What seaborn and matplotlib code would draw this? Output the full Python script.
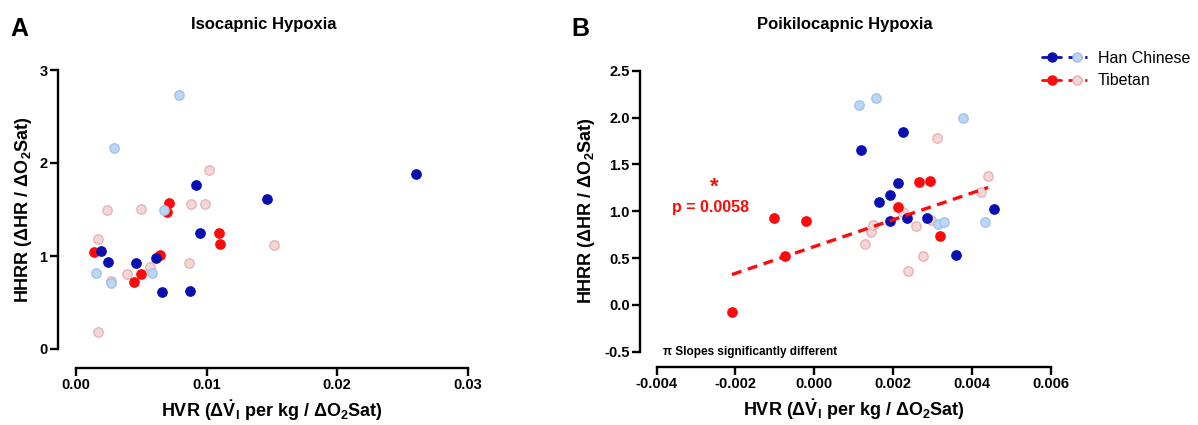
import numpy as np
import pandas as pd
import seaborn as sns
import matplotlib
matplotlib.use("Agg")
import matplotlib.pyplot as plt
from matplotlib.lines import Line2D
from matplotlib.legend_handler import HandlerTuple

# ---------------- Data ----------------
# Panel A: Isocapnic Hypoxia
a_han_dark_x = [0.00192, 0.00248, 0.00460, 0.00611, 0.00657, 0.00874, 0.00920, 0.00950, 0.01461, 0.02603]
a_han_dark_y = [1.05, 0.94, 0.92, 0.98, 0.61, 0.62, 1.76, 1.25, 1.61, 1.88]
a_han_light_x = [0.00156, 0.00291, 0.00268, 0.00580, 0.00677, 0.00787]
a_han_light_y = [0.82, 2.16, 0.71, 0.82, 1.49, 2.73]
a_tib_dark_x = [0.00136, 0.00447, 0.00496, 0.00641, 0.00700, 0.00713, 0.01096, 0.01103]
a_tib_dark_y = [1.04, 0.72, 0.81, 1.01, 1.47, 1.57, 1.25, 1.13]
a_tib_light_x = [0.00166, 0.00171, 0.00240, 0.00268, 0.00389, 0.00500, 0.00565, 0.00864, 0.00879, 0.00991, 0.01017, 0.01517]
a_tib_light_y = [1.18, 0.18, 1.49, 0.73, 0.81, 1.51, 0.88, 0.92, 1.56, 1.56, 1.92, 1.12]

# Panel B: Poikilocapnic Hypoxia
b_han_dark_x = [0.00119, 0.00164, 0.00191, 0.00191, 0.00213, 0.00226, 0.00236, 0.00285, 0.00359, 0.00456]
b_han_dark_y = [1.65, 1.10, 1.17, 0.90, 1.30, 1.85, 0.93, 0.93, 0.53, 1.02]
b_han_light_x = [0.00114, 0.00157, 0.00377, 0.00313, 0.00329, 0.00434]
b_han_light_y = [2.13, 2.21, 1.99, 0.86, 0.88, 0.89]
b_tib_dark_x = [-0.00209, -0.00102, -0.00021, -0.00075, 0.00213, 0.00266, 0.00293, 0.00318]
b_tib_dark_y = [-0.075, 0.93, 0.90, 0.52, 1.04, 1.31, 1.32, 0.73]
b_tib_light_x = [0.00128, 0.00144, 0.00148, 0.00225, 0.00238, 0.00258, 0.00275, 0.00295, 0.00312, 0.00424, 0.00441]
b_tib_light_y = [0.65, 0.78, 0.85, 0.99, 0.36, 0.84, 0.52, 0.91, 1.78, 1.20, 1.38]

a_xticks = [0.00, 0.01, 0.02, 0.03]
a_xticklabels = ["0.00", "0.01", "0.02", "0.03"]
a_yticks = [0, 1, 2, 3]
a_yticklabels = ["0", "1", "2", "3"]
b_xticks = [-0.004, -0.002, 0.000, 0.002, 0.004, 0.006]
b_xticklabels = ["-0.004", "-0.002", "0.000", "0.002", "0.004", "0.006"]
b_yticks = [-0.5, 0.0, 0.5, 1.0, 1.5, 2.0, 2.5]
b_yticklabels = ["-0.5", "0.0", "0.5", "1.0", "1.5", "2.0", "2.5"]

groups = ["Han Chinese", "Tibetan"]
p_text = "p = 0.0058"

# ---------------- Style ----------------
sns.set_style("ticks")
plt.rcParams["font.family"] = ["Liberation Sans", "DejaVu Sans"]
plt.rcParams["mathtext.default"] = "regular"
for k in ["text.color", "axes.labelcolor", "xtick.color", "ytick.color", "axes.edgecolor"]:
    plt.rcParams[k] = "black"

C_HAN = "#0a0fb0"
C_HAN_L = "#bcd6f6"
C_HAN_LE = "#9dbfee"
C_TIB = "#ff0a0a"
C_TIB_L = "#f7d5d5"
C_TIB_LE = "#e2b2b2"

W, H = 1198, 425
fig = plt.figure(figsize=(W / 100, H / 100), dpi=100)

def px_axes(x0, x1, ytop, ybot):
    return fig.add_axes([x0 / W, 1 - ybot / H, (x1 - x0) / W, (ybot - ytop) / H])

axA = px_axes(76, 467.7, 70, 349)
axB = px_axes(656.7, 1050.7, 70.7, 351.7)

MS = 46

def scat(ax, x, y, face, edge, z):
    df = pd.DataFrame({"x": x, "y": y})
    sns.scatterplot(data=df, x="x", y="y", ax=ax, s=MS, color=face,
                    edgecolor=edge, linewidth=0.9, zorder=z, clip_on=False, legend=False)

# Panel A
scat(axA, a_tib_light_x, a_tib_light_y, C_TIB_L, C_TIB_LE, 2)
scat(axA, a_han_dark_x, a_han_dark_y, C_HAN, C_HAN, 3)
scat(axA, a_tib_dark_x, a_tib_dark_y, C_TIB, C_TIB, 2.5)
scat(axA, a_han_light_x, a_han_light_y, C_HAN_L, C_HAN_LE, 4)

# Panel B
scat(axB, b_tib_light_x, b_tib_light_y, C_TIB_L, C_TIB_LE, 2)
scat(axB, b_han_light_x, b_han_light_y, C_HAN_L, C_HAN_LE, 2)
scat(axB, b_han_dark_x, b_han_dark_y, C_HAN, C_HAN, 3)
scat(axB, b_tib_dark_x, b_tib_dark_y, C_TIB, C_TIB, 3)

tib_all = pd.DataFrame({"x": b_tib_dark_x + b_tib_light_x, "y": b_tib_dark_y + b_tib_light_y})
sns.regplot(data=tib_all, x="x", y="y", ax=axB, scatter=False, ci=None, truncate=True,
            line_kws=dict(color=C_TIB, lw=2.4, ls=(0, (3, 2)), zorder=5))

def style_axes(ax, xlim, ylim, xt, xtl, yt, ytl, off_l, off_b):
    ax.set_xlim(*xlim)
    ax.set_ylim(*ylim)
    ax.set_xticks(xt)
    ax.set_xticklabels(xtl)
    ax.set_yticks(yt)
    ax.set_yticklabels(ytl)
    for s in ["top", "right"]:
        ax.spines[s].set_visible(False)
    for s in ["left", "bottom"]:
        ax.spines[s].set_linewidth(1.7)
        ax.spines[s].set_color("black")
    ax.spines["left"].set_position(("outward", off_l))
    ax.spines["bottom"].set_position(("outward", off_b))
    ax.tick_params(axis="both", direction="out", length=5.5, width=1.7, color="black",
                   labelcolor="black", labelsize=10.5, pad=2, bottom=True, left=True)
    for lab in ax.get_xticklabels() + ax.get_yticklabels():
        lab.set_fontweight("bold")
    ax.set_facecolor("none")
    ax.grid(False)

style_axes(axA, (0, 0.03), (0, 3), a_xticks, a_xticklabels, a_yticks, a_yticklabels, 13, 13.7)
style_axes(axB, (-0.004, 0.006), (-0.5, 2.5), b_xticks, b_xticklabels, b_yticks, b_yticklabels, 12, 10.8)

xlab = r"HVR ($\Delta\dot{V}_{I}$ per kg / $\Delta O_{2}$Sat)"
ylab = r"HHRR ($\Delta$HR / $\Delta O_{2}$Sat)"
for ax, lp in ((axA, 4), (axB, 5)):
    ax.set_xlabel(xlab, fontsize=13, fontweight="bold", labelpad=4)
    ax.set_ylabel(ylab, fontsize=13, fontweight="bold", labelpad=lp)

# Titles and panel letters
fig.text(264 / W, 1 - 25 / H, "Isocapnic Hypoxia", ha="center", va="center", fontsize=12, fontweight="bold")
fig.text(845 / W, 1 - 25 / H, "Poikilocapnic Hypoxia", ha="center", va="center", fontsize=12, fontweight="bold")
fig.text(10 / W, 1 - 29 / H, "A", ha="left", va="center", fontsize=18, fontweight="bold")
fig.text(571 / W, 1 - 29 / H, "B", ha="left", va="center", fontsize=18, fontweight="bold")

# Annotations in panel B
axB.text(-0.00362, 1.04, p_text, color=C_TIB, fontsize=11.5, fontweight="bold", ha="left", va="center")
axB.text(-0.00255, 1.14, "*", color=C_TIB, fontsize=16, fontweight="bold", ha="center", va="bottom")
axB.text(-0.00385, -0.5, "\u03c0 Slopes significantly different", fontsize=8.5, fontweight="bold",
         ha="left", va="center")

# Legend
h_han = (Line2D([0], [0], color=C_HAN, lw=2, marker="o", ms=6.5, mfc=C_HAN, mec=C_HAN),
         Line2D([0], [0], color=C_HAN, lw=2, ls=(0, (2, 1)), marker="o", ms=6.5, mfc=C_HAN_L, mec=C_HAN_LE))
h_tib = (Line2D([0], [0], color=C_TIB, lw=2, marker="o", ms=6.5, mfc=C_TIB, mec=C_TIB),
         Line2D([0], [0], color=C_TIB, lw=2, ls=(0, (2, 1)), marker="o", ms=6.5, mfc=C_TIB_L, mec=C_TIB_LE))
fig.legend([h_han, h_tib], groups, handler_map={tuple: HandlerTuple(ndivide=None, pad=0.4)},
           loc="upper left", bbox_to_anchor=(1042 / W, 1 - 51 / H), frameon=False,
           fontsize=11.5, handlelength=2.8, handletextpad=0.7, labelspacing=0.45,
           borderpad=0, borderaxespad=0)

fig.savefig("out.png", dpi=100)
